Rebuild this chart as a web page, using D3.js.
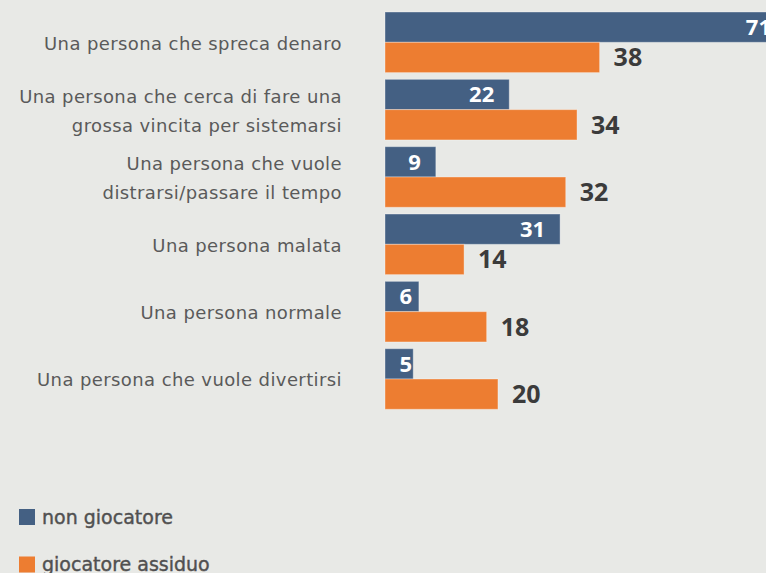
<!DOCTYPE html>
<html>
<head>
<meta charset="utf-8">
<script src="https://cdn.jsdelivr.net/npm/d3@7"></script>
<style>
  html, body { margin: 0; padding: 0; background: #e8e9e6; overflow: hidden; }
  svg { display: block; }
</style>
</head>
<body>
<div id="chart"></div>
<script>
// categories (multi-line labels split by \n)
const categories = [
  "Una persona che spreca denaro",
  "Una persona che cerca di fare una\ngrossa vincita per sistemarsi",
  "Una persona che vuole\ndistrarsi/passare il tempo",
  "Una persona malata",
  "Una persona normale",
  "Una persona che vuole divertirsi"
];
const nonGiocatore = [71, 22, 9, 31, 6, 5];
const giocatoreAssiduo = [38, 34, 32, 14, 18, 20];
const seriesNames = ["non giocatore", "giocatore assiduo"];
const seriesColors = ["#446083", "#ed7d31"];

const width = 766, height = 573;

const svg = d3.select("#chart")
  .append("svg")
    .attr("width", width)
    .attr("height", height);

svg.append("rect")
  .attr("width", width)
  .attr("height", height)
  .attr("fill", "#e8e9e6");

// scales
const x = d3.scaleLinear()
  .domain([0, 71])
  .range([385, 786]);

const y = d3.scaleBand()
  .domain(d3.range(categories.length))
  .range([12, 409.3])
  .paddingInner(0.1);

const ySub = d3.scaleBand()
  .domain([0, 1])
  .range([0, y.bandwidth()]);

const rows = categories.map((c, i) => ({
  label: c,
  values: [nonGiocatore[i], giocatoreAssiduo[i]]
}));

const g = svg.selectAll(".grp")
  .data(rows)
  .join("g")
    .attr("class", "grp")
    .attr("transform", (d, i) => `translate(0,${y(i)})`);

// bars
g.selectAll("rect")
  .data(d => d.values.map((v, k) => ({v, k})))
  .join("rect")
    .attr("x", x(0))
    .attr("y", d => ySub(d.k))
    .attr("width", d => x(d.v) - x(0))
    .attr("height", ySub.bandwidth())
    .attr("fill", d => seriesColors[d.k])
    .attr("stroke", "#ffffff")
    .attr("stroke-opacity", 0.35)
    .attr("stroke-width", 1);

// value labels: white inside the blue bar, dark beside the orange bar
g.selectAll("text.val")
  .data(d => d.values.map((v, k) => ({v, k})))
  .join("text")
    .attr("class", "val")
    .attr("x", d => d.k === 0 ? Math.max(x(d.v) - 15, x(0) + 27) : x(d.v) + 14)
    .attr("y", d => ySub(d.k) + ySub.bandwidth() / 2)
    .attr("dy", "0.36em")
    .attr("text-anchor", d => d.k === 0 ? "end" : "start")
    .attr("font-family", "'Open Sans', sans-serif")
    .attr("font-weight", "bold")
    .attr("font-size", d => d.k === 0 ? 22 : 25)
    .attr("fill", d => d.k === 0 ? "#ffffff" : "#3b3b3b")
    .text(d => d.v);

// category labels
g.each(function(d) {
  const lines = d.label.split("\n");
  const t = d3.select(this).append("text")
    .attr("text-anchor", "end")
    .attr("font-family", "'DejaVu Sans', sans-serif")
    .attr("font-size", 18)
    .attr("letter-spacing", 0.4)
    .attr("fill", "#5a5a5a");
  lines.forEach((ln, j) => {
    t.append("tspan")
      .attr("x", 342)
      .attr("y", y.bandwidth() / 2 + 7.5 + (j - (lines.length - 1) / 2) * 29)
      .text(ln);
  });
});

// legend
const legend = svg.selectAll(".leg")
  .data(seriesNames)
  .join("g")
    .attr("class", "leg")
    .attr("transform", (d, i) => `translate(19,${509 + i * 47.5})`);

legend.append("rect")
  .attr("width", 16)
  .attr("height", 16)
  .attr("fill", (d, i) => seriesColors[i]);

legend.append("text")
  .attr("x", 23)
  .attr("y", 14.5)
  .attr("font-family", "'DejaVu Sans', sans-serif")
  .attr("font-size", 19)
  .attr("fill", "#505050")
  .attr("stroke", "#505050")
  .attr("stroke-width", 0.4)
  .text(d => d);
</script>
</body>
</html>
